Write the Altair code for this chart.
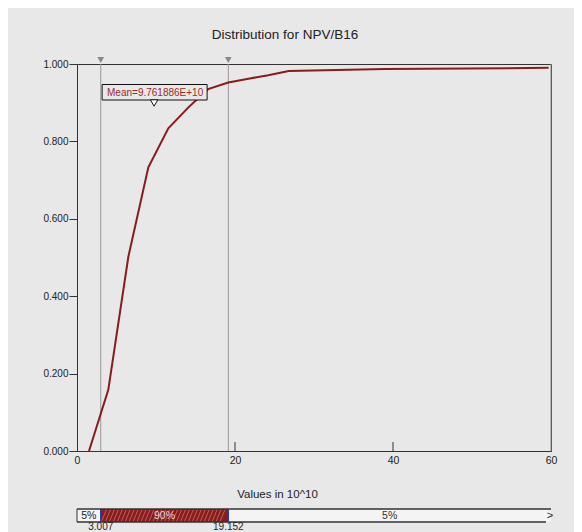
import altair as alt
import numpy as np
import pandas as pd

# ---- data ----
cdf_x = [1.52, 3.96, 6.50, 9.03, 11.56, 14.10, 16.60, 19.15, 21.70, 24.20, 26.80, 39.00, 59.70]
cdf_y = [0.000, 0.158, 0.502, 0.733, 0.834, 0.888, 0.935, 0.952, 0.962, 0.971, 0.982, 0.987, 0.990]

marker_values = [3.007, 19.152]
marker_labels = ["3.007", "19.152"]

band_start = [0.0, 3.007, 19.152]
band_end = [3.007, 19.152, 60.0]
band_labels = ["5%", "90%", "5%"]

mean_value = [9.761886]
mean_label = ["Mean=9.761886E+10"]

x_domain = [0, 60]
x_ticks = [0, 20, 40, 60]
inner_ticks = [20, 40]
y_ticks = [0.0, 0.2, 0.4, 0.6, 0.8, 1.0]

# ---- layout / style ----
W, H = 474, 387
BG = "#e8e8e8"
RED = "#8b1a1a"
FONT = "Liberation Sans"
X_TITLE = "Values in 10^10"

curve_df = pd.DataFrame({"x": cdf_x, "p": cdf_y})
marker_df = pd.DataFrame({"v": marker_values, "label": marker_labels})
band_df = pd.DataFrame({
    "start": band_start, "end": band_end, "label": band_labels,
    "fill": ["#f4f4f4", RED, "#f4f4f4"],
    "tcolor": ["#222222", "#e6d2d2", "#333333"],
})
band_df["mid"] = (band_df["start"] + band_df["end"]) / 2
mean_df = pd.DataFrame({"m": mean_value, "label": mean_label})
edge_df = pd.DataFrame({"a": [x_domain[0]], "b": [x_domain[1]]})
tick_df = pd.DataFrame({"t": inner_ticks})
# texture of the 90% segment (decoration only)
hatch_df = pd.DataFrame({"h": np.arange(band_start[1] + 0.1, band_end[1] - 0.6, 0.5)})

xs = alt.Scale(domain=x_domain, nice=False, zero=False)
ys = alt.Scale(domain=[0, 1], nice=False)

x_axis = alt.Axis(values=x_ticks, ticks=False, grid=False, labelFlush=False,
                  labelPadding=4, labelFontSize=10.5, labelColor="#222",
                  domainColor="#333", title=X_TITLE, titleFontSize=11.5,
                  titleFontWeight="normal", titleColor="#222",
                  titleX=200, titleY=43, titleBaseline="middle")
y_axis = alt.Axis(values=y_ticks, format=".3f", grid=False, tickSize=8,
                  tickColor="#333", labelPadding=1, labelFontSize=10,
                  labelColor="#222", domainColor="#333", title=None)


def X(field, **kw):
    return alt.X(field, type="quantitative", scale=xs, axis=x_axis, title=X_TITLE, **kw)


line = alt.Chart(curve_df).mark_line(color=RED, strokeWidth=2).encode(
    x=X("x"), y=alt.Y("p:Q", scale=ys, axis=y_axis)
)

marker_rules = alt.Chart(marker_df).mark_rule(color="#999", strokeWidth=1).encode(
    x=X("v"), y=alt.value(0), y2=alt.value(H)
)
marker_tris = alt.Chart(marker_df).mark_point(
    shape="triangle-down", filled=True, color="#888", size=45, opacity=1
).encode(x=X("v"), y=alt.value(-4))

right_border = alt.Chart(edge_df).mark_rule(color="#888").encode(
    x=X("b"), y=alt.value(0), y2=alt.value(H)
)
inner_tick_rules = alt.Chart(tick_df).mark_rule(color="#333").encode(
    x=X("t"), y=alt.value(H - 9), y2=alt.value(H)
)

mean_box = alt.Chart(mean_df).mark_rect(
    fill=BG, stroke="#111", strokeWidth=1, xOffset=-52, x2Offset=53
).encode(x=X("m"), x2="m", y=alt.value(20.5), y2=alt.value(36))
mean_text = alt.Chart(mean_df).mark_text(
    color="#a02828", fontSize=10, font=FONT, baseline="middle", xOffset=1
).encode(x=X("m"), y=alt.value(28.5), text="label:N")
mean_ptr = alt.Chart(mean_df).mark_point(
    shape="triangle-down", filled=True, fill="white", stroke="#111",
    strokeWidth=1, size=55, opacity=1
).encode(x=X("m"), y=alt.value(39))

# bottom percentile band
BY0, BY1 = 445, 458
band_rects = alt.Chart(band_df).mark_rect().encode(
    x=X("start"), x2="end", y=alt.value(BY0), y2=alt.value(BY1),
    fill=alt.Color("fill:N", scale=None)
)
hatch = alt.Chart(hatch_df).mark_rule(
    color="#b26464", strokeWidth=1, x2Offset=5
).encode(x=X("h"), x2="h", y=alt.value(BY1 - 0.5), y2=alt.value(BY0 + 0.5))
band_text = alt.Chart(band_df).mark_text(
    fontSize=10.5, font=FONT, baseline="middle"
).encode(x=X("mid"), y=alt.value((BY0 + BY1) / 2), text="label:N",
         color=alt.Color("tcolor:N", scale=None))
band_top = alt.Chart(edge_df).mark_rule(color="#333", strokeWidth=1.5).encode(
    x=X("a"), x2="b", y=alt.value(BY0)
)
band_bottom = alt.Chart(edge_df).mark_rule(color="#333", strokeWidth=1.5, x2Offset=-5).encode(
    x=X("a"), x2="b", y=alt.value(BY1)
)
band_left = alt.Chart(edge_df).mark_rule(color="#333").encode(
    x=X("a"), y=alt.value(BY0), y2=alt.value(BY1)
)
band_sep = alt.Chart(marker_df).mark_rule(color="#2a3aa8", strokeWidth=1.5).encode(
    x=X("v"), y=alt.value(BY0), y2=alt.value(BY1)
)
band_arrow = alt.Chart(edge_df).mark_text(
    text=">", fontSize=11, font=FONT, color="#222", baseline="middle", xOffset=-1
).encode(x=X("b"), y=alt.value((BY0 + BY1) / 2))
band_vals = alt.Chart(marker_df).mark_text(
    fontSize=10, font=FONT, color="#222", baseline="bottom"
).encode(x=X("v"), y=alt.value(467.8), text="label:N")

chart = alt.layer(
    marker_rules, right_border, inner_tick_rules, line, marker_tris,
    mean_box, mean_text, mean_ptr,
    band_rects, hatch, band_text, band_top, band_bottom, band_left,
    band_sep, band_arrow, band_vals,
).properties(
    width=W, height=H,
    title=alt.TitleParams("Distribution for NPV/B16", fontSize=13.5, font=FONT,
                          fontWeight="normal", color="#222", anchor="middle",
                          dx=-29, offset=9, baseline="middle"),
    autosize=alt.AutoSizeParams(type="none"),
    padding={"left": 69, "top": 56, "right": 23, "bottom": 81},
    background=BG,
).configure_view(stroke="#333", strokeWidth=1).configure_axis(
    labelFont=FONT, titleFont=FONT
)

chart.save("out.html", embed_options={"renderer": "svg", "actions": False})
